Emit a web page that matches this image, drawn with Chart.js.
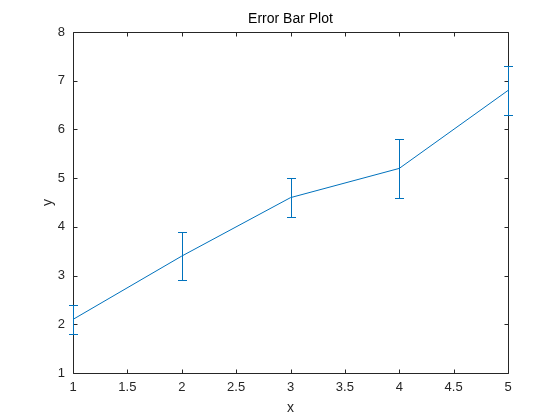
<!DOCTYPE html>
<html>
<head>
<meta charset="utf-8">
<script src="https://cdn.jsdelivr.net/npm/chart.js@4.4.1/dist/chart.umd.min.js"></script>
<style>
  html, body { margin: 0; padding: 0; background: #fff; }
  #wrap { width: 560px; height: 420px; }
</style>
</head>
<body>
<div id="wrap"><canvas id="grafik"></canvas></div>
<script>
const xValues = [1, 2, 3, 4, 5];
const yValues = [2.1, 3.4, 4.6, 5.2, 6.8];
const errValues = [0.3, 0.5, 0.4, 0.6, 0.5]; // setengah panjang error bar
const xTicks = [1, 1.5, 2, 2.5, 3, 3.5, 4, 4.5, 5];
const yTicks = [1, 2, 3, 4, 5, 6, 7, 8];

const lineColor = '#0072BD';
const axisColor = '#262626';
const fontFamily = '"Liberation Sans", Arial, Helvetica, sans-serif';

// kotak sumbu, error bar, judul dan label sumbu digambar sendiri
const errorBarPlugin = {
    id: 'errorBars',
    afterDraw(chart) {
        const ctx = chart.ctx;
        const a = chart.chartArea;
        const xs = chart.scales.x, ys = chart.scales.y;
        const L = Math.round(a.left) + 0.5, R = Math.round(a.right) + 0.5;
        const T = Math.round(a.top) + 0.5, B = Math.round(a.bottom) + 0.5;
        const tl = 4;
        ctx.save();
        ctx.strokeStyle = axisColor;
        ctx.lineWidth = 1;
        ctx.beginPath();
        ctx.rect(L, T, R - L, B - T);
        xTicks.forEach(v => {
            const p = Math.round(xs.getPixelForValue(v)) + 0.5;
            ctx.moveTo(p, B); ctx.lineTo(p, B - tl);
            ctx.moveTo(p, T); ctx.lineTo(p, T + tl);
        });
        yTicks.forEach(v => {
            const p = Math.round(ys.getPixelForValue(v)) + 0.5;
            ctx.moveTo(L, p); ctx.lineTo(L + tl, p);
            ctx.moveTo(R, p); ctx.lineTo(R - tl, p);
        });
        ctx.stroke();

        // error bar di atas kotak sumbu
        ctx.strokeStyle = lineColor;
        ctx.beginPath();
        xValues.forEach((x, i) => {
            const px = Math.round(xs.getPixelForValue(x)) + 0.5;
            const top = Math.round(ys.getPixelForValue(yValues[i] + errValues[i])) + 0.5;
            const bot = Math.round(ys.getPixelForValue(yValues[i] - errValues[i])) + 0.5;
            ctx.moveTo(px, top); ctx.lineTo(px, bot);
            ctx.moveTo(px - 4.5, top); ctx.lineTo(px + 4.5, top);
            ctx.moveTo(px - 4.5, bot); ctx.lineTo(px + 4.5, bot);
        });
        ctx.stroke();

        ctx.fillStyle = '#000';
        ctx.font = '14px ' + fontFamily;
        ctx.textAlign = 'center';
        ctx.textBaseline = 'middle';
        ctx.fillText('Error Bar Plot', (a.left + a.right) / 2, 19);

        ctx.fillStyle = axisColor;
        ctx.fillText('x', (a.left + a.right) / 2, 408);
        ctx.translate(48, (a.top + a.bottom) / 2);
        ctx.rotate(-Math.PI / 2);
        ctx.fillText('y', 0, 0);
        ctx.restore();
    }
};

const data = {
    datasets: [{
        label: 'y',
        data: xValues.map((x, i) => ({ x: x, y: yValues[i] })),
        borderColor: lineColor,
        borderWidth: 1,
        pointRadius: 0,
        tension: 0,
        fill: false
    }]
};

const config = {
    type: 'line',
    data: data,
    plugins: [errorBarPlugin],
    options: {
        responsive: true,
        maintainAspectRatio: false,
        animation: false,
        layout: { padding: { top: 32, right: 52, bottom: 0, left: 0 } },
        plugins: {
            legend: { display: false },
            title: { display: false },
            tooltip: { enabled: false }
        },
        scales: {
            x: {
                type: 'linear',
                min: 1,
                max: 5,
                afterFit: s => { s.height = 47; },
                afterBuildTicks: s => { s.ticks = xTicks.map(v => ({ value: v })); },
                grid: { display: false, drawTicks: false },
                border: { display: false },
                ticks: {
                    color: axisColor,
                    font: { family: fontFamily, size: 13 },
                    padding: 7,
                    maxRotation: 0,
                    autoSkip: false,
                    callback: v => String(v)
                }
            },
            y: {
                type: 'linear',
                min: 1,
                max: 8,
                afterFit: s => { s.width = 73; },
                afterBuildTicks: s => { s.ticks = yTicks.map(v => ({ value: v })); },
                grid: { display: false, drawTicks: false },
                border: { display: false },
                ticks: {
                    color: axisColor,
                    font: { family: fontFamily, size: 13 },
                    padding: 8,
                    autoSkip: false,
                    callback: v => String(v)
                }
            }
        }
    }
};

const ctx = document.getElementById('grafik').getContext('2d');
new Chart(ctx, config);
</script>
</body>
</html>
